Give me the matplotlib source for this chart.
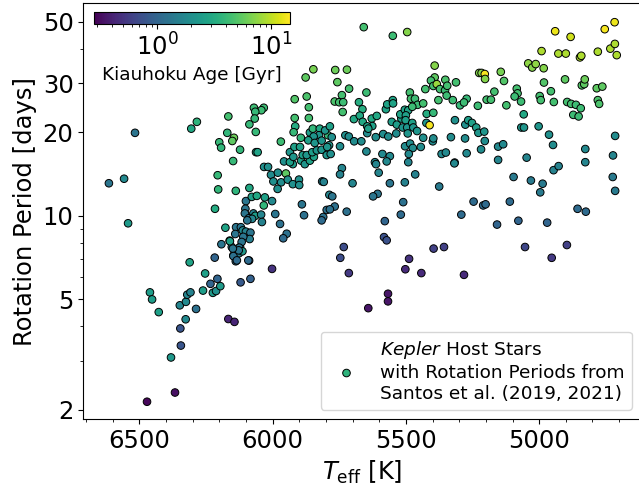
import numpy as np
import matplotlib
matplotlib.use("Agg")
import matplotlib.pyplot as plt
from matplotlib import ticker
from matplotlib.colors import LogNorm

# ---- data: (Teff [K], Prot [days], Kiauhoku age [Gyr]) ----
teff_first = [6284]
prot_first = [21.8]
age_first = [3.6]

# hot / fast rotators
teff_a = [6516, 6614, 6557, 6542, 6460, 6452, 6427, 6471, 6366, 6381, 6344, 6346, 6326, 6348, 6325, 6320, 6308,
          6287, 6311, 6253, 6261, 6224, 6212, 6196, 6233, 6207, 6217, 6120, 6083, 6088, 6166, 6143, 6002]
prot_a = [19.9, 13.1, 13.6, 9.4, 5.3, 5.0, 4.5, 2.14, 2.31, 3.09, 3.41, 3.93, 4.24, 4.76, 4.9, 5.2, 5.3,
          4.62, 6.8, 6.2, 5.38, 5.28, 5.36, 5.58, 5.69, 5.93, 7.07, 5.76, 5.93, 6.9, 4.25, 4.15, 6.44]
age_a = [1.3, 1.3, 1.8, 2.4, 2.5, 2.5, 2.6, 0.3, 0.33, 2.3, 0.8, 0.8, 1.8, 1.7, 1.8, 1.7, 1.6,
         1.2, 2.8, 2.6, 2.5, 2.4, 2.0, 2.4, 1.0, 1.0, 1.0, 0.85, 0.95, 1.0, 0.42, 0.42, 0.5]

teff_b = [6177, 6161, 6192, 6153, 6147, 6138, 6126, 6122, 6137, 6119, 6140, 6112, 6100, 6083, 6086, 6110, 6116,
          6125, 6113, 6127, 6149, 6160, 6147, 6134, 6091, 6100, 6102, 6104, 6072, 6065, 6043, 6040, 6089, 6077,
          6095, 6078, 6059, 6029, 6002, 6033, 5990, 5972, 5947, 5960, 5890, 5882, 5814, 5808, 5787, 5797, 5810,
          5816, 5776, 5767, 5785, 5722, 5740, 5747, 5700, 5733, 5746, 5714]
prot_b = [9.06, 8.14, 7.9, 7.72, 7.2, 6.86, 7.33, 7.72, 9.1, 9.1, 8.6, 8.86, 8.77, 8.7, 8.25, 8.4, 8.05,
          7.68, 7.45, 7.51, 7.62, 8.1, 7.16, 6.91, 6.91, 11.3, 10.6, 10.2, 10.2, 10.0, 10.1, 9.5, 9.8, 9.75,
          9.63, 11.7, 11.8, 11.65, 11.3, 10.9, 10.15, 9.35, 8.62, 8.3, 11.0, 10.05, 13.3, 13.25, 11.9, 10.5, 9.9,
          9.63, 11.75, 10.8, 10.55, 10.35, 14.85, 14.1, 13.1, 7.72, 7.06, 6.22]
age_b = [2.8, 2.8, 1.3, 1.6, 2.6, 1.2, 1.5, 1.5, 1.3, 1.3, 1.3, 1.8, 1.6, 1.3, 1.5, 1.3, 1.3,
         1.3, 2.4, 1.3, 1.3, 2.6, 1.2, 1.1, 1.1, 1.3, 1.3, 1.3, 1.6, 2.5, 1.7, 1.6, 1.3, 1.7,
         1.3, 2.6, 3.0, 2.7, 1.8, 3.8, 1.3, 1.2, 1.2, 1.1, 1.3, 1.2, 1.6, 1.6, 1.7, 1.2, 1.2,
         1.1, 1.3, 1.2, 1.2, 1.2, 1.7, 1.6, 1.7, 0.7, 0.7, 0.55]

teff_c = [6206, 6204, 6216, 6138, 6087, 6148, 6032, 6017, 6006, 5980, 5950, 5997, 5968, 5943, 5924, 5901, 5900,
          5981, 5957, 5924, 5893, 5879, 5935, 5860, 5845]
prot_c = [14.0, 12.45, 10.6, 12.3, 12.6, 15.75, 15.0, 15.0, 14.05, 14.3, 14.2, 13.3, 13.2, 13.5, 13.0, 13.5, 12.9,
          12.5, 15.7, 15.35, 15.8, 15.35, 15.6, 15.8, 16.3]
age_c = [4.0, 3.8, 3.2, 3.7, 3.0, 4.0, 2.0, 2.0, 1.9, 2.0, 5.5, 2.0, 1.9, 2.0, 2.0, 2.0, 2.0,
         2.0, 2.0, 2.5, 2.6, 2.2, 2.6, 2.7, 2.7]

teff_d = [5847, 5876, 5917, 5872, 5864, 5864, 5917, 5915, 5921, 6070, 6033, 6042, 6065, 6067, 6087, 6063, 6166,
          6305, 6170, 6145, 6151, 6200, 6193, 6122, 6062, 6056, 5969, 5894, 5860, 5849, 5823, 5826, 5846, 5866,
          5842, 5816, 5792, 5803, 5788, 5935, 5918, 5897, 5922, 5887, 5872, 5851, 5834, 5816, 5795, 5797]
prot_d = [33.7, 31.5, 26.3, 26.9, 24.6, 22.5, 22.5, 21.0, 20.0, 24.5, 24.5, 24.0, 23.7, 22.4, 21.35, 20.05, 22.8,
          20.6, 19.9, 19.1, 18.6, 18.4, 17.6, 17.3, 16.95, 16.95, 18.5, 19.1, 19.95, 20.6, 20.6, 19.5, 19.3, 18.7,
          18.3, 18.65, 19.5, 20.3, 17.95, 16.95, 17.7, 17.7, 16.3, 16.55, 16.55, 16.95, 17.2, 17.3, 17.7, 16.55]
age_d = [6.5, 5.5, 5.0, 4.8, 4.5, 4.5, 4.5, 3.2, 4.0, 4.2, 4.2, 4.2, 4.0, 4.0, 4.0, 4.0, 4.5,
         3.0, 3.8, 6.0, 5.5, 4.0, 3.8, 3.8, 2.8, 2.8, 4.2, 3.8, 2.5, 3.8, 3.0, 2.2, 2.2, 2.6,
         2.2, 2.2, 4.0, 2.2, 2.2, 2.2, 2.6, 2.6, 2.2, 2.5, 2.2, 2.5, 2.2, 2.2, 2.2, 2.2]

teff_e = [5765, 5721, 5757, 5392, 5392, 5406, 5397, 5384, 5352, 5312, 5372, 5353, 5345, 5713, 5740, 5767, 5750,
          5737, 5735, 5648, 5676, 5663, 5695, 5673, 5662, 5628, 5609, 5626, 5645, 5575, 5570, 5549, 5548, 5553,
          5534, 5517, 5521, 5504, 5491, 5500, 5501, 5512, 5495, 5476, 5472, 5458, 5493, 5485, 5481, 5466, 5456,
          5476, 5435, 5422, 5397, 5378, 5347, 5324, 5297, 5272, 5423, 5411, 5316, 5277, 5266, 5785, 5778, 5782,
          5727, 5714, 5694, 5667, 5645, 5613, 5585, 5566, 5536, 5747, 5648, 5588, 5560, 5616, 5572, 5503, 5484,
          5474, 5444, 5489, 5435, 5399, 5397, 5366, 5350, 5331, 5317, 5278, 5272, 5218, 5204, 5154, 5135, 5154,
          5252, 5236, 5228, 5206, 5641, 5282, 5230, 5197, 5181, 5168, 5123, 5427]
prot_e = [33.5, 33.6, 30.3, 34.75, 31.5, 30.7, 29.35, 29.8, 30.9, 30.25, 28.6, 28.3, 29.4, 28.7, 27.2, 25.8, 25.65,
          23.65, 25.65, 27.8, 25.65, 24.2, 22.3, 22.95, 21.8, 22.4, 22.9, 21.05, 21.0, 24.2, 25.2, 26.1, 25.4, 21.8,
          21.3, 22.4, 23.2, 24.1, 24.0, 23.0, 22.1, 20.8, 20.8, 21.6, 20.8, 20.2, 19.8, 27.8, 26.4, 26.4, 25.1,
          24.7, 25.4, 23.3, 23.5, 26.1, 27.1, 26.1, 25.0, 26.4, 21.6, 21.2, 22.1, 21.3, 22.1, 21.0, 19.2, 16.7,
          19.5, 19.3, 18.55, 18.55, 19.85, 19.2, 19.7, 19.3, 19.8, 17.8, 17.05, 16.7, 16.4, 15.6, 15.7, 17.8, 18.2,
          17.55, 17.7, 16.7, 19.1, 18.55, 19.0, 16.7, 16.9, 19.2, 15.55, 19.0, 16.8, 17.35, 18.6, 17.75, 18.1, 15.9,
          21.6, 20.8, 19.9, 20.1, 20.6, 25.6, 24.9, 26.2, 26.2, 28.0, 25.0, 28.6]
age_e = [6.0, 6.0, 5.5, 7.0, 5.5, 4.5, 4.5, 8.0, 4.8, 4.5, 4.5, 4.2, 4.5, 4.5, 4.5, 4.8, 4.5,
         4.5, 4.2, 4.2, 3.3, 3.3, 3.0, 3.0, 3.0, 3.0, 3.0, 2.7, 2.7, 2.8, 2.8, 2.8, 2.8, 2.5,
         2.5, 2.5, 2.8, 2.8, 2.8, 2.6, 2.6, 2.2, 2.2, 2.6, 2.2, 2.2, 2.2, 4.5, 4.5, 4.2, 4.2,
         4.2, 4.5, 3.3, 4.0, 4.5, 4.2, 4.2, 4.0, 4.0, 2.2, 14.0, 2.0, 2.0, 2.5, 2.6, 2.0, 2.0,
         2.0, 1.9, 1.9, 1.9, 1.9, 1.9, 1.9, 1.9, 1.9, 1.9, 1.8, 1.8, 1.8, 1.8, 1.8, 1.9, 1.9,
         1.9, 1.9, 1.8, 2.0, 1.9, 1.9, 1.8, 1.8, 1.9, 1.7, 1.9, 1.8, 1.9, 1.9, 1.8, 1.8, 1.7,
         2.6, 2.5, 2.2, 2.2, 2.6, 4.2, 4.2, 4.5, 4.5, 4.5, 4.5, 4.5]

teff_f = [5612, 5602, 5491, 5465, 5504, 5560, 5606, 5623, 5318, 5375, 5510, 5519, 5579, 5292, 5582, 5572, 5396,
          5357, 5488, 5502, 5442, 5282, 5567, 5567, 5641, 5658, 5549, 5495]
prot_f = [15.35, 14.3, 15.6, 14.1, 13.2, 13.1, 12.0, 11.75, 15.45, 12.75, 11.2, 10.1, 9.57, 10.1, 8.38, 8.16, 7.62,
          7.72, 7.0, 6.42, 6.22, 6.13, 5.24, 4.92, 4.65, 47.8, 44.5, 45.9]
age_f = [1.7, 1.7, 1.7, 1.6, 1.6, 1.3, 1.3, 1.3, 1.8, 1.4, 1.2, 1.1, 1.0, 1.1, 0.75, 0.75, 0.6,
         0.6, 0.5, 0.45, 0.45, 0.45, 0.35, 0.35, 0.35, 4.5, 4.2, 7.0]

# cool stars
teff_g = [4940, 4882, 4754, 4717, 4991, 4928, 4900, 4847, 4842, 4780, 4733, 4716, 4709, 5225, 5216, 5204, 5203,
          5144, 5132, 5041, 5026, 5013, 4983, 4982, 4903, 4840, 4831, 4829, 4784, 4763, 4956, 4998, 4994, 4945,
          4895, 4880, 4862, 4844, 4872, 4852, 4780, 4775, 5084, 5081, 5092, 5068, 5058, 5067, 5057, 5002, 4963,
          4948, 4827, 4827, 4715, 4723, 4724, 4715, 5047, 5096, 5031, 4987, 4996, 4946, 4927, 4856, 4825, 5110,
          5078, 5158, 4970, 5246, 5210, 5201, 5053, 4953, 4896]
prot_g = [46.2, 44.1, 47.0, 49.8, 39.2, 38.4, 38.4, 37.2, 37.7, 39.0, 40.0, 41.6, 37.9, 32.7, 32.7, 32.4, 31.1,
          33.0, 30.6, 35.4, 34.2, 35.2, 34.0, 30.2, 31.0, 29.5, 29.8, 31.0, 28.8, 29.2, 28.1, 27.0, 26.1, 25.7,
          25.7, 25.3, 25.1, 24.4, 23.1, 22.8, 26.1, 25.3, 28.7, 27.6, 26.9, 25.8, 23.2, 20.8, 20.8, 21.0, 19.6,
          18.0, 17.4, 15.6, 19.4, 16.5, 13.8, 12.3, 16.2, 13.8, 13.4, 13.05, 12.15, 14.6, 15.1, 10.6, 10.35, 11.25,
          9.6, 9.3, 9.45, 11.25, 10.9, 11.0, 7.72, 7.06, 7.85]
age_g = [13, 11, 14, 13, 9, 9, 9, 9, 9, 9, 9, 9, 9, 7, 7, 14, 7,
         6.5, 5, 7.5, 7, 7.5, 7, 5, 5.5, 5, 5.5, 6, 5.5, 5.5, 4.5, 4.5, 4.5, 4.5,
         4.5, 4.5, 4.2, 4.2, 4.2, 4.2, 4.8, 4.8, 4.5, 4.5, 4.2, 4.2, 3.0, 2.2, 2.2, 2.2, 2.0,
         1.9, 1.8, 1.7, 1.9, 1.7, 1.4, 1.4, 1.7, 1.4, 1.4, 1.4, 1.4, 1.6, 1.6, 1.1, 1.1, 1.1,
         1.0, 1.0, 1.0, 1.1, 1.1, 1.1, 0.65, 0.55, 0.6]

teff = np.array(teff_first + teff_a + teff_b + teff_c + teff_d + teff_e + teff_f + teff_g, dtype=float)
prot = np.array(prot_first + prot_a + prot_b + prot_c + prot_d + prot_e + prot_f + prot_g, dtype=float)
age = np.array(age_first + age_a + age_b + age_c + age_d + age_e + age_f + age_g, dtype=float)

age_min, age_max = 0.28, 14.7
x_ticks = [6500, 6000, 5500, 5000]
y_ticks = [2, 5, 10, 20, 30, 50]

fig = plt.figure(figsize=(6.39, 4.87), dpi=100)
ax = fig.add_axes([83.3 / 639, 1 - 419.3 / 487, (641 - 83.3) / 639, (419.3 - 3) / 487])

sc = ax.scatter(teff, prot, c=age, cmap="viridis", norm=LogNorm(vmin=age_min, vmax=age_max),
                s=30, edgecolors="k", linewidths=0.7,
                label="$\\it{Kepler}$ Host Stars\nwith Rotation Periods from\nSantos et al. (2019, 2021)")

ax.set_yscale("log")
ax.set_xlim(6710, 4618)
ax.set_ylim(1.85, 58.4)
ax.xaxis.set_major_locator(ticker.FixedLocator(x_ticks))
ax.xaxis.set_minor_locator(ticker.MultipleLocator(100))
ax.yaxis.set_major_locator(ticker.FixedLocator(y_ticks))
ax.yaxis.set_major_formatter(ticker.FormatStrFormatter("%g"))
ax.yaxis.set_minor_locator(ticker.LogLocator(base=10, subs=np.arange(1, 10)))
ax.yaxis.set_minor_formatter(ticker.NullFormatter())
ax.tick_params(axis="both", which="major", labelsize=17.5)

ax.set_xlabel(r"$T_{\rm eff}$ [K]", fontsize=17.5)
ax.set_ylabel("Rotation Period [days]", fontsize=17.5)

ax.legend(loc="lower right", fontsize=13.3)

cax = fig.add_axes([94 / 639, 1 - 24 / 487, 196 / 639, 12 / 487])
cb = fig.colorbar(sc, cax=cax, orientation="horizontal")
cb.set_label("Kiauhoku Age [Gyr]", fontsize=13.3)
cax.tick_params(labelsize=17.5)

fig.savefig("out.png", dpi=100)
